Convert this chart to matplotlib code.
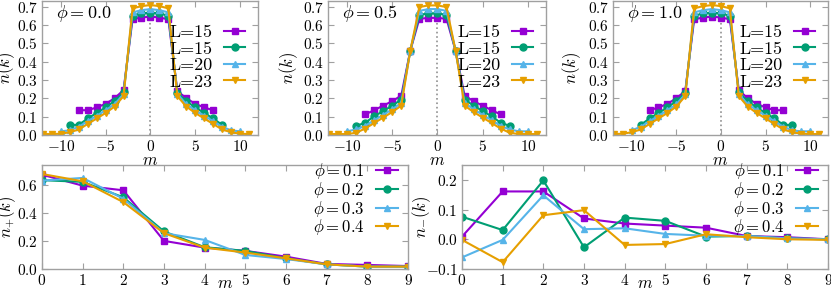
import numpy as np
import matplotlib
matplotlib.use("Agg")
import matplotlib.pyplot as plt
from matplotlib.ticker import FuncFormatter

plt.rcParams['mathtext.fontset'] = 'cm'
plt.rcParams['font.family'] = 'serif'
plt.rcParams['font.serif'] = ['cmr10', 'DejaVu Serif']
plt.rcParams['axes.formatter.use_mathtext'] = True

# ---- data: top row, n(k) vs m for three phi values ----
phis_top = ['0.0', '0.5', '1.0']
L_labels = ['L=15', 'L=15', 'L=20', 'L=23']

m_1 = list(range(-8, 8))
m_2 = list(range(-9, 9))
m_3 = list(range(-10, 11))
m_4 = list(range(-12, 12))

# phi = 0.0
n00_1 = [0.135, 0.135, 0.150, 0.170, 0.200, 0.245, 0.630, 0.640, 0.645, 0.640, 0.630,
         0.240, 0.200, 0.170, 0.150, 0.135]
n00_2 = [0.055, 0.055, 0.090, 0.120, 0.150, 0.185, 0.232, 0.650, 0.662, 0.667, 0.662, 0.650,
         0.230, 0.185, 0.150, 0.120, 0.090, 0.055]
n00_3 = [0.020, 0.025, 0.045, 0.075, 0.105, 0.135, 0.168, 0.222, 0.668, 0.680, 0.686, 0.680,
         0.668, 0.222, 0.168, 0.135, 0.105, 0.075, 0.045, 0.025, 0.020]
n00_4 = [0.005, 0.005, 0.007, 0.015, 0.030, 0.060, 0.090, 0.120, 0.155, 0.212, 0.690, 0.702,
         0.708, 0.702, 0.690, 0.212, 0.155, 0.120, 0.090, 0.060, 0.030, 0.015, 0.007, 0.005]

# phi = 0.5
n05_1 = [0.112, 0.135, 0.160, 0.184, 0.215, 0.460, 0.633, 0.638, 0.638, 0.633, 0.460,
         0.215, 0.184, 0.160, 0.135, 0.112]
n05_2 = [0.050, 0.066, 0.102, 0.130, 0.160, 0.193, 0.460, 0.655, 0.662, 0.662, 0.655, 0.460,
         0.193, 0.160, 0.130, 0.102, 0.066, 0.050]
n05_3 = [0.020, 0.030, 0.050, 0.080, 0.110, 0.140, 0.175, 0.460, 0.676, 0.686, 0.686, 0.676,
         0.460, 0.175, 0.140, 0.110, 0.080, 0.050, 0.030, 0.020, 0.020]
n05_4 = [0.005, 0.005, 0.005, 0.012, 0.035, 0.065, 0.095, 0.125, 0.160, 0.460, 0.697, 0.706,
         0.706, 0.697, 0.460, 0.160, 0.125, 0.095, 0.065, 0.035, 0.012, 0.005, 0.005, 0.005]

# phi = 1.0
n10_1 = [0.135, 0.150, 0.170, 0.200, 0.240, 0.630, 0.640, 0.645, 0.640, 0.630, 0.245,
         0.200, 0.170, 0.150, 0.135, 0.135]
n10_2 = [0.055, 0.090, 0.120, 0.150, 0.185, 0.230, 0.650, 0.662, 0.667, 0.662, 0.650, 0.232,
         0.185, 0.150, 0.120, 0.090, 0.055, 0.055]
n10_3 = [0.025, 0.045, 0.075, 0.105, 0.135, 0.168, 0.222, 0.668, 0.680, 0.686, 0.680, 0.668,
         0.222, 0.168, 0.135, 0.105, 0.075, 0.045, 0.025, 0.020, 0.020]
n10_4 = [0.005, 0.007, 0.015, 0.030, 0.060, 0.090, 0.120, 0.155, 0.212, 0.690, 0.702, 0.708,
         0.702, 0.690, 0.212, 0.155, 0.120, 0.090, 0.060, 0.030, 0.015, 0.007, 0.005, 0.005]

# ---- data: bottom row, n+(k) and n-(k) vs m ----
phis_bot = ['0.1', '0.2', '0.3', '0.4']
m_bot = list(range(0, 10))
nplus_1 = [0.671, 0.593, 0.560, 0.200, 0.152, 0.129, 0.088, 0.036, 0.029, 0.021]
nplus_2 = [0.632, 0.620, 0.510, 0.267, 0.155, 0.129, 0.076, 0.033, 0.017, 0.017]
nplus_3 = [0.629, 0.648, 0.500, 0.255, 0.207, 0.100, 0.071, 0.033, 0.017, 0.017]
nplus_4 = [0.676, 0.624, 0.476, 0.255, 0.152, 0.117, 0.076, 0.033, 0.017, 0.017]

nminus_1 = [0.009, 0.161, 0.161, 0.070, 0.053, 0.046, 0.039, 0.011, 0.007, 0.000]
nminus_2 = [0.076, 0.031, 0.198, -0.027, 0.073, 0.062, 0.009, 0.011, 0.003, 0.000]
nminus_3 = [-0.061, -0.002, 0.148, 0.034, 0.037, 0.018, 0.012, 0.011, 0.003, 0.000]
nminus_4 = [-0.002, -0.077, 0.081, 0.098, -0.019, -0.016, 0.017, 0.007, 0.000, -0.002]

colors = ['#9400D3', '#009E73', '#56B4E9', '#E69F00']
markers = ['s', 'o', '^', 'v']
msizes = [5, 5, 4.5, 4.5]

W, H = 831, 290


def rect(x0, y0, x1, y1):
    return [x0 / W, 1 - y1 / H, (x1 - x0) / W, (y1 - y0) / H]


def style(ax):
    for s in ax.spines.values():
        s.set_color('#a0a0a0')
        s.set_linewidth(1.0)
    ax.tick_params(direction='in', top=True, right=True, color='#a0a0a0',
                   length=4, labelsize=11, pad=3)


def fmt(decimals):
    return FuncFormatter(lambda v, p: '$%.*f$' % (decimals, v) if decimals else '$%d$' % round(v))


fig = plt.figure(figsize=(W / 100, H / 100), dpi=100)

# (left, top, right, bottom) in pixels, plus y-label right edge offset left of axes
top_boxes = [(42, 1, 258, 135, 25), (328, 1, 546, 135, 28), (613, 1, 828, 135, 30)]
top_data = [[n00_1, n00_2, n00_3, n00_4],
            [n05_1, n05_2, n05_3, n05_4],
            [n10_1, n10_2, n10_3, n10_4]]
m_sets = [m_1, m_2, m_3, m_4]

for box, phi, series in zip(top_boxes, phis_top, top_data):
    x0, y0, x1, y1, yoff = box
    ax = fig.add_axes(rect(x0, y0, x1, y1))
    ax.axvline(0, color='#909090', ls=':', lw=1.2, zorder=0)
    for i in range(4):
        ax.plot(m_sets[i], series[i], color=colors[i], marker=markers[i], ms=msizes[i],
                lw=1.5, label=L_labels[i])
    ax.set_xlim(-12.1, 12.0)
    ax.set_ylim(0, 0.73)
    ax.set_xticks([-10, -5, 0, 5, 10])
    ax.set_yticks(np.arange(0, 0.71, 0.1))
    ax.xaxis.set_major_formatter(fmt(0))
    ax.yaxis.set_major_formatter(fmt(1))
    style(ax)
    ax.set_xlabel('$m$', fontsize=12)
    ax.xaxis.set_label_coords(0.5, -(153 - y1) / (y1 - y0))
    ax.set_ylabel('$n(k)$', fontsize=12)
    ax.yaxis.set_label_coords(-yoff / (x1 - x0), 0.5)
    ax.text(0.065, 0.87, r'$\phi = %s$' % phi, transform=ax.transAxes, fontsize=13)
    ax.legend(loc='upper right', frameon=False, markerfirst=False, fontsize=13,
              handlelength=1.2, handletextpad=0.6, labelspacing=0.05,
              borderaxespad=0.3, bbox_to_anchor=(1.0, 0.92))

bot_boxes = [(42, 165, 408, 269, 24), (462, 165, 828, 269, 29)]
bot_data = [[nplus_1, nplus_2, nplus_3, nplus_4],
            [nminus_1, nminus_2, nminus_3, nminus_4]]
ylims = [(0, 0.74), (-0.1, 0.25)]
yticks = [[0.0, 0.2, 0.4, 0.6], [-0.1, 0.0, 0.1, 0.2]]
ylabels = ['$n_{+}(k)$', '$n_{-}(k)$']

for box, series, yl, yt, lab in zip(bot_boxes, bot_data, ylims, yticks, ylabels):
    x0, y0, x1, y1, yoff = box
    ax = fig.add_axes(rect(x0, y0, x1, y1))
    for i in range(4):
        ax.plot(m_bot, series[i], color=colors[i], marker=markers[i], ms=msizes[i],
                lw=1.5, label=r'$\phi = %s$' % phis_bot[i])
    ax.set_xlim(0, 9)
    ax.set_ylim(*yl)
    ax.set_xticks(m_bot)
    ax.set_yticks(yt)
    ax.xaxis.set_major_formatter(fmt(0))
    ax.yaxis.set_major_formatter(fmt(1))
    style(ax)
    ax.set_xlabel('$m$', fontsize=12)
    ax.xaxis.set_label_coords(0.5, -(276 - y1) / (y1 - y0))
    ax.set_ylabel(lab, fontsize=12)
    ax.yaxis.set_label_coords(-yoff / (x1 - x0), 0.5)
    ax.legend(loc='upper right', frameon=False, markerfirst=False, fontsize=12,
              handlelength=1.3, handletextpad=0.7, labelspacing=-0.08,
              borderaxespad=0.0, bbox_to_anchor=(0.99, 1.1))

fig.savefig('out.png', dpi=100)
